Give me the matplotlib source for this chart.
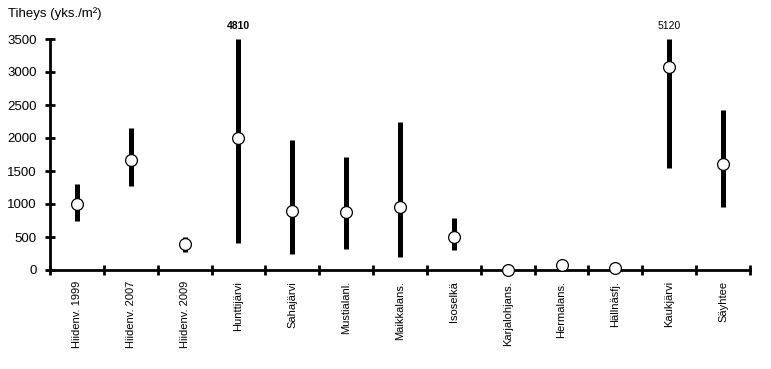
import matplotlib.pyplot as plt
import numpy as np

plt.rcParams['font.family'] = ['Liberation Sans', 'DejaVu Sans']

# järvet
labels = ['Hiidenv. 1999', 'Hiidenv. 2007', 'Hiidenv. 2009', 'Hunttijärvi', 'Sahajärvi',
          'Mustialanl.', 'Maikkalans.', 'Isoselkä', 'Karjalohjans.', 'Hermalans.',
          'Hällnäsfj.', 'Kaukjärvi', 'Säyhtee']
# keskiarvo, min, max
mean = [1000, 1670, 390, 2000, 900, 880, 950, 500, 0, 80, 30, 3070, 1600]
low = [750, 1270, 280, 410, 250, 320, 200, 300, 0, 80, 30, 1550, 960]
high = [1310, 2150, 500, 4810, 1970, 1710, 2250, 790, 0, 80, 30, 5120, 2420]

ymax = 3500
x = np.arange(len(labels))

fig = plt.figure(figsize=(7.71, 3.69), dpi=100)
ax = fig.add_axes([50 / 771, 99 / 369, 700 / 771, 231 / 369])

# vaihteluvälit
ax.vlines(x, low, np.minimum(high, ymax), color='black', linewidth=3.6)
ax.plot(x, mean, 'o', markersize=8.5, markerfacecolor='white',
        markeredgecolor='black', markeredgewidth=0.9, clip_on=False, zorder=3)

# yli akselin menevät arvot
for xi, h in zip(x, high):
    if h > ymax:
        ax.text(xi, ymax + 120, str(h), ha='center', va='bottom', fontsize=7.5,
                fontweight='bold' if h == 4810 else 'normal')

ax.set_xlim(-0.5, len(labels) - 0.5)
ax.set_ylim(0, ymax)
ax.set_yticks(np.arange(0, 3501, 500))
ax.set_xticks(x)
ax.set_xticklabels(labels, rotation=90, fontsize=8)
ax.set_xticks(np.arange(-0.5, len(labels)), minor=True)
ax.tick_params(axis='x', which='major', length=0, pad=8)
ax.tick_params(axis='x', which='minor', length=7, width=2, direction='inout')
ax.tick_params(axis='y', length=7, width=2, direction='inout', labelsize=9.5, pad=6)
for side in ['top', 'right']:
    ax.spines[side].set_visible(False)
ax.spines['left'].set_linewidth(2)
ax.spines['bottom'].set_linewidth(2)

fig.text(8 / 771, 1 - 14 / 369, 'Tiheys (yks./m²)', fontsize=9.5, va='center')

plt.savefig('out.png', dpi=100)
